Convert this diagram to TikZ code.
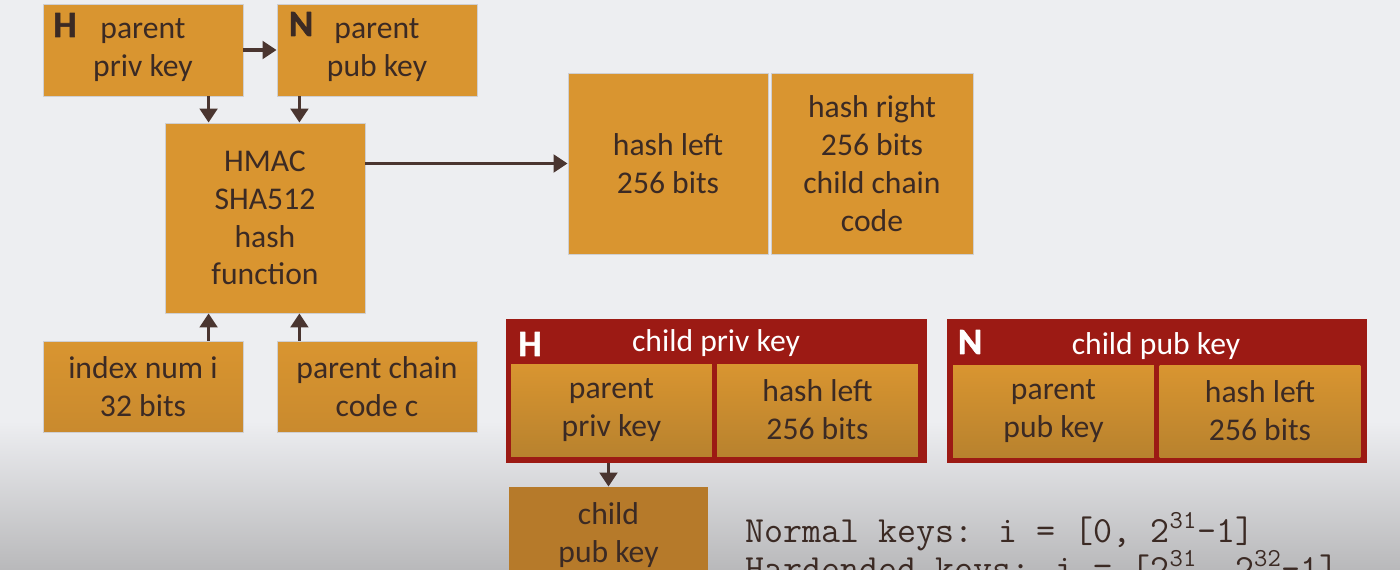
\documentclass[tikz,border=0pt]{standalone}
\usepackage{fontspec}
\setmainfont{Carlito}
\newfontfamily\heavyfont{Carlito Bold}[FakeBold=1.6]
\usetikzlibrary{arrows.meta}

\definecolor{boxorange}{HTML}{D99530}
\definecolor{boxdark}{HTML}{B8822E}
\definecolor{boxlow}{HTML}{C98A2E}
\definecolor{boxdeep}{HTML}{B67A2A}
\definecolor{boxedge}{HTML}{CFCFD2}
\definecolor{keyred}{HTML}{9C1A14}
\definecolor{inktext}{HTML}{3B2A24}
\definecolor{arrowink}{HTML}{4A3530}
\definecolor{bgtop}{HTML}{EDEEF1}
\definecolor{bgbot}{HTML}{B9B9BB}
\pgfdeclareverticalshading{slidebg}{100bp}{color(0bp)=(bgbot); color(25bp)=(bgbot); color(38bp)=(bgtop); color(100bp)=(bgtop)}

\begin{document}
\begin{tikzpicture}[x=0.02cm,y=-0.02cm,line join=round,
  every node/.style={inner sep=0pt},
  box/.style={fill=boxorange,draw=boxedge,line width=0.5pt,text=inktext,align=center,font=\fontsize{18}{21.5}\selectfont},
  lowbox/.style={box,top color=boxorange,bottom color=boxlow,minimum width=4cm,minimum height=1.82cm},
  innerbox/.style={box,draw=none,top color=boxorange,bottom color=boxdark,minimum width=4.02cm,minimum height=1.84cm},
  redbox/.style={fill=keyred,minimum width=8.42cm,minimum height=2.88cm},
  letter/.style={font=\fontsize{21}{21}\heavyfont,text=inktext},
  arr/.style={draw=arrowink,line width=2pt,-{Triangle[width=10pt,length=8pt]}}]
  \useasboundingbox (0,0) rectangle (1400,569);
  \shade[shading=slidebg] (0,0) rectangle (1400,569);
  \node[box,minimum width=4cm,minimum height=1.84cm] (priv) at (143,50) {parent\\priv key};
  \node[box,minimum width=4cm,minimum height=1.84cm] (pub) at (377,50) {parent\\pub key};
  \node[letter] (hpriv) at (65,25) {H};
  \node[letter] (npub) at (301,24) {N};
  \node[box,minimum width=4cm,minimum height=3.8cm] (hmac) at (265,218) {HMAC\\SHA512\\hash\\function};
  \node[box,minimum width=4cm,minimum height=3.62cm] (hashl) at (668,163.5) {hash left\\256 bits};
  \node[box,minimum width=4.04cm,minimum height=3.62cm] (hashr) at (872,163.5) {hash right\\256 bits\\child chain\\code};
  \node[lowbox] (idx) at (143,386.5) {index num i\\32 bits};
  \node[lowbox] (chain) at (377,386.5) {parent chain\\code c};
  \node[redbox] (cpriv) at (716.5,391) {};
  \node[text=white,font=\fontsize{18}{21}\selectfont] (cprivt) at (716,343) {child priv key};
  \node[letter,text=white] (hcpriv) at (530,344) {H};
  \node[innerbox] (ppriv) at (611.5,410) {parent\\priv key};
  \node[innerbox] (hl1) at (817.5,410) {hash left\\256 bits};
  \node[redbox,minimum width=8.4cm] (cpub) at (1157,391) {};
  \node[text=white,font=\fontsize{18}{21}\selectfont] (cpubt) at (1156,346) {child pub key};
  \node[letter,text=white] (ncpub) at (970,342) {N};
  \node[innerbox] (ppub) at (1053.5,411) {parent\\pub key};
  \node[innerbox] (hl2) at (1260,411) {hash left\\256 bits};
  \node[box,draw=none,fill=boxdeep,minimum width=3.98cm,minimum height=1.92cm] (chpub) at (608.5,535) {child\\pub key};
  \node[anchor=base west,text=inktext,font=\fontsize{21}{21}\ttfamily] (normal) at (745,542) {Normal keys: i = [0, 2\textsuperscript{31}-1]};
  \node[anchor=base west,text=inktext,font=\fontsize{21}{21}\ttfamily] (hard) at (745,580) {Hardended keys: i = [2\textsuperscript{31}, 2\textsuperscript{32}-1]};
  \coordinate (c1) at ([xshift=0.88cm]hmac.north west);
  \coordinate (c2) at ([xshift=-1.32cm]hmac.north east);
  \draw[arr] (priv) -- (pub);
  \draw[arr] (c1 |- priv.south) -- (c1);
  \draw[arr] (c2 |- pub.south) -- (c2);
  \draw[arr] (c1 |- idx.north) -- (c1 |- hmac.south);
  \draw[arr] (c2 |- chain.north) -- (c2 |- hmac.south);
  \draw[arr] (hashl.west -| hmac.east) -- (hashl.west);
  \draw[arr] (chpub.north |- cpriv.south) -- (chpub.north);
\end{tikzpicture}
\end{document}
